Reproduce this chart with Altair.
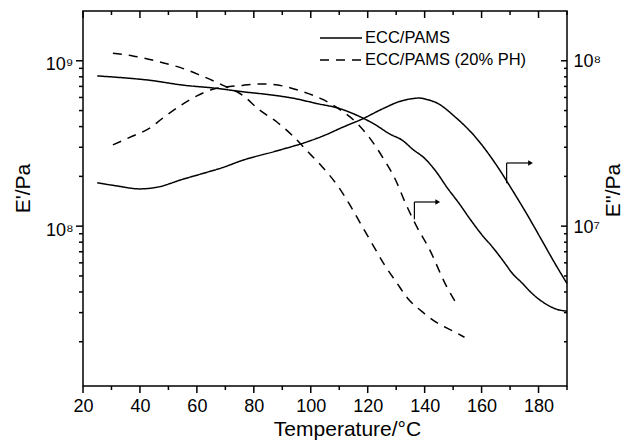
import altair as alt
import pandas as pd

series_names = ["ECC/PAMS", "ECC/PAMS (20% PH)"]

# E' (storage modulus), ECC/PAMS, left axis
t_storage_pams = [25, 35, 43, 55, 67, 76, 85, 94, 102, 110, 116, 122, 128, 132, 136,
                  140, 144, 148, 152, 156, 160, 164, 168, 171, 174, 177, 180, 183, 186, 190]
storage_pams = [8.1e8, 7.87e8, 7.64e8, 7.13e8, 6.81e8, 6.5e8, 6.25e8, 5.93e8, 5.52e8, 5.15e8,
                4.70e8, 4.17e8, 3.59e8, 3.32e8, 2.9e8, 2.57e8, 2.14e8, 1.70e8, 1.38e8, 1.10e8,
                8.91e7, 7.41e7, 6.03e7, 5.13e7, 4.57e7, 4.03e7, 3.63e7, 3.35e7, 3.16e7, 3.06e7]

# E'' (loss modulus), ECC/PAMS, right axis
t_loss_pams = [25, 32, 40, 46, 55, 62, 69, 76, 88, 99.5, 105, 111, 118, 125, 132, 135, 138,
               141, 144, 151, 158, 165, 171, 176.7, 181, 185.4, 190]
loss_pams = [1.83e7, 1.75e7, 1.68e7, 1.72e7, 1.92e7, 2.08e7, 2.26e7, 2.5e7, 2.85e7, 3.27e7,
             3.55e7, 3.95e7, 4.44e7, 5.1e7, 5.73e7, 5.88e7, 5.95e7, 5.82e7, 5.59e7, 4.53e7,
             3.43e7, 2.37e7, 1.63e7, 1.12e7, 8.3e6, 6.1e6, 4.5e6]

# E' (storage modulus), ECC/PAMS (20% PH), left axis
t_storage_ph = [30.5, 37.5, 48, 55, 61, 69, 76, 82, 88, 94, 99.5, 104, 110, 114, 118, 122,
                126, 130, 134, 139, 144, 150, 154]
storage_ph = [1.11e9, 1.07e9, 9.73e8, 9.0e8, 8.2e8, 7.13e8, 6.2e8, 5.04e8, 4.28e8, 3.47e8,
              2.76e8, 2.29e8, 1.7e8, 1.32e8, 1.0e8, 7.6e7, 5.8e7, 4.6e7, 3.67e7, 3.05e7,
              2.63e7, 2.32e7, 2.13e7]

# E'' (loss modulus), ECC/PAMS (20% PH), right axis
t_loss_ph = [30.5, 37.5, 43.4, 48, 54, 60, 65.6, 71.5, 76, 83, 90, 97, 104, 110, 116, 120.6,
             125.3, 130, 133, 137, 141.6, 147.5, 151.6]
loss_ph = [3.1e7, 3.51e7, 3.91e7, 4.5e7, 5.33e7, 6.14e7, 6.73e7, 6.98e7, 7.1e7, 7.25e7, 7.05e7,
           6.52e7, 5.86e7, 5.1e7, 4.23e7, 3.43e7, 2.6e7, 1.87e7, 1.41e7, 1.01e7, 7.3e6, 4.39e6,
           3.31e6]

# arrows pointing to the right axis (E'' curves)
arrow_t = [168.8, 136.4]
arrow_lo = [1.82e7, 1.1e7]
arrow_hi = [2.41e7, 1.4e7]
arrow_tip = [177.2, 144.6]

# tick values
x_major = [20, 40, 60, 80, 100, 120, 140, 160, 180]
x_minor = [30, 50, 70, 90, 110, 130, 150, 170, 190]
left_major = [1e8, 1e9]
left_minor = [2e7, 3e7, 4e7, 5e7, 6e7, 7e7, 8e7, 9e7,
              2e8, 3e8, 4e8, 5e8, 6e8, 7e8, 8e8, 9e8]
right_major = [1e7, 1e8]
right_minor = [2e6, 3e6, 4e6, 5e6, 6e6, 7e6, 8e6, 9e6,
               2e7, 3e7, 4e7, 5e7, 6e7, 7e7, 8e7, 9e7]

W, H = 484, 375

storage_df = pd.concat([
    pd.DataFrame({"T": t_storage_pams, "val": storage_pams, "series": series_names[0]}),
    pd.DataFrame({"T": t_storage_ph, "val": storage_ph, "series": series_names[1]}),
])
loss_df = pd.concat([
    pd.DataFrame({"T": t_loss_pams, "val": loss_pams, "series": series_names[0]}),
    pd.DataFrame({"T": t_loss_ph, "val": loss_ph, "series": series_names[1]}),
])
arrows_df = pd.DataFrame({"T": arrow_t, "lo": arrow_lo, "hi": arrow_hi, "tip": arrow_tip})

xs = alt.Scale(domain=[20, 190], nice=False, zero=False)
ysL = alt.Scale(type="log", domain=[1.08e7, 2e9], nice=False)
ysR = alt.Scale(type="log", domain=[1.08e6, 2e8], nice=False)
dash_scale = alt.Scale(domain=series_names, range=[[1, 0], [9, 7]])

sup = "['\u2070','\u00b9','\u00b2','\u00b3','\u2074','\u2075','\u2076','\u2077','\u2078','\u2079']"
pow_label = "'10' + " + sup + "[round(log(datum.value) / LN10)]"

legend = alt.Legend(
    orient="none", legendX=236, legendY=16, padding=0, clipHeight=22, rowPadding=0,
    symbolType="stroke", symbolSize=1764, symbolStrokeWidth=1.5, symbolStrokeColor="black",
    labelFont="Liberation Sans", labelFontSize=16.5, labelColor="black", labelOffset=2,
    labelLimit=300, title=None,
)

storage = alt.Chart(storage_df).mark_line(color="black", strokeWidth=1.5, interpolate="monotone").encode(
    x=alt.X("T:Q", scale=xs, axis=alt.Axis(
        orient="bottom", values=x_major, ticks=False, labelPadding=11, labelFlush=False,
        domain=False, grid=False,
        title="Temperature/\u00b0C", titleX=264, titleY=49, titleBaseline="alphabetic")),
    y=alt.Y("val:Q", scale=ysL, axis=alt.Axis(
        orient="left", values=left_major, ticks=False, labelPadding=10, labelOffset=4,
        labelExpr=pow_label, domain=False, grid=False, title="E'/Pa", titleX=-54, titleY=177,
        titleAngle=270, titleBaseline="alphabetic")),
    strokeDash=alt.StrokeDash("series:N", scale=dash_scale, legend=legend),
    detail="series:N",
)

loss = alt.Chart(loss_df).mark_line(color="black", strokeWidth=1.5, interpolate="monotone").encode(
    x=alt.X("T:Q", scale=xs, axis=None),
    y=alt.Y("val:Q", scale=ysR, axis=alt.Axis(
        orient="right", values=right_major, ticks=False, labelPadding=6,
        labelOffset=1, labelExpr=pow_label, domain=False, grid=False, title="E''/Pa",
        titleX=52, titleY=179, titleAngle=270, titleBaseline="alphabetic")),
    strokeDash=alt.StrokeDash("series:N", scale=dash_scale, legend=legend),
    detail="series:N",
)


def x_ticks(values, y0, y1):
    return alt.Chart(pd.DataFrame({"v": values})).mark_rule(
        color="black", strokeWidth=1.5).encode(
        x=alt.X("v:Q", scale=xs, axis=None), y=alt.value(y0), y2=alt.value(y1))


def y_ticks(values, scale, x0, x1):
    return alt.Chart(pd.DataFrame({"v": values})).mark_rule(
        color="black", strokeWidth=1.5).encode(
        y=alt.Y("v:Q", scale=scale, axis=None), x=alt.value(x0), x2=alt.value(x1))


tick_layers = [
    x_ticks(x_major, H, H + 7),      # bottom, outward
    x_ticks(x_minor, H, H + 4),
    x_ticks(x_major, 0, 7),          # top, inward
    x_ticks(x_minor, 0, 4),
    y_ticks(left_major, ysL, -7, 0),  # left, outward
    y_ticks(left_minor, ysL, -4, 0),
    y_ticks(right_major, ysR, W - 6, W),  # right, inward
    y_ticks(right_minor, ysR, W - 3, W),
]

arrow_v = alt.Chart(arrows_df).mark_rule(color="black", strokeWidth=1.2).encode(
    x=alt.X("T:Q", scale=xs, axis=None),
    y=alt.Y("lo:Q", scale=ysR, axis=None),
    y2="hi:Q",
)
arrow_h = alt.Chart(arrows_df).mark_rule(color="black", strokeWidth=1.2).encode(
    x=alt.X("T:Q", scale=xs, axis=None),
    x2="tip:Q",
    y=alt.Y("hi:Q", scale=ysR, axis=None),
)
arrow_head = alt.Chart(arrows_df).mark_point(
    shape="triangle-right", filled=True, size=30, color="black", opacity=1
).encode(
    x=alt.X("tip:Q", scale=xs, axis=None),
    y=alt.Y("hi:Q", scale=ysR, axis=None),
)

chart = alt.layer(
    storage, loss, *tick_layers, arrow_v, arrow_h, arrow_head
).resolve_scale(
    x="independent", y="independent"
).properties(
    width=W, height=H,
    autosize=alt.AutoSizeParams(type="none"),
    padding={"left": 75, "top": 3, "right": 58, "bottom": 54},
).configure(
    font="Liberation Sans"
).configure_view(
    stroke="black", strokeWidth=1.5
).configure_axis(
    labelFont="Liberation Sans", labelFontSize=18, labelColor="black",
    titleFont="Liberation Sans", titleFontSize=21, titleFontWeight="normal",
    titleColor="black",
)

chart.save("out.html", embed_options={"renderer": "svg", "actions": False})
